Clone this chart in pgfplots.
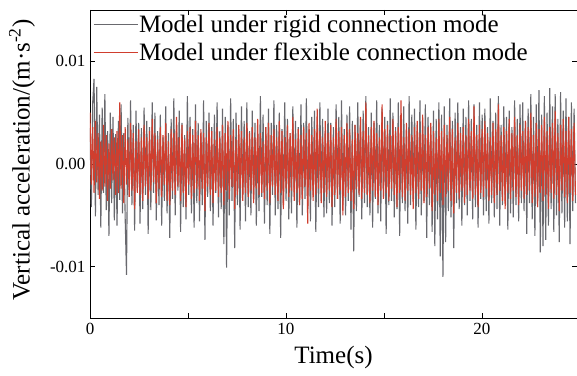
\documentclass[border=0pt]{standalone}
\usepackage{pgfplots}
\pgfplotsset{compat=1.18}
\usepackage{fontspec}
\setmainfont{Liberation Serif}
\definecolor{rigid}{RGB}{105,105,110}
\definecolor{flex}{RGB}{208,62,46}
\begin{document}
\begin{tikzpicture}
\begin{axis}[
  scale only axis, width=487pt, height=308pt,
  xmin=0, xmax=24.85, ymin=-15, ymax=15,
  axis line style={line width=0.9pt},
  tick style={line width=0.8pt, black},
  tick align=inside, major tick length=5pt, minor tick length=5pt,
  xtick={0,10,20}, xticklabels={0,10,20}, minor xtick={5,15},
  ytick={-10,0,10}, yticklabels={-0.01,0.00,0.01},
  ticklabel style={font=\fontsize{17}{17}\selectfont},
  xticklabel style={yshift=-2pt},
  yticklabel style={xshift=-1pt},
  xlabel={Time(s)}, ylabel={Vertical acceleration/(m·s\textsuperscript{-2})},
  label style={font=\fontsize{25}{25}\selectfont},
  xlabel style={at={(axis description cs:0.5,0)}, anchor=center, yshift=-39pt},
  ylabel style={at={(axis description cs:0,0.5)}, anchor=center, yshift=68pt, xshift=4pt},
  legend style={at={(axis description cs:0,1)}, anchor=north west, draw=none, fill=none,
    xshift=2pt, yshift=-3pt,
    font=\fontsize{25}{25}\selectfont, inner sep=1pt, row sep=7pt,
    nodes={inner sep=1pt}},
  legend cell align=left,
  legend image code/.code={\draw[#1, line width=0.8pt] (0pt,0pt) -- (44pt,0pt);},
]
\coordinate (bl) at (rel axis cs:0,0);
\coordinate (tr) at (rel axis cs:1,1);
\addplot[color=rigid, line width=1.1pt] table[row sep=\\, header=false, x expr=\coordindex*0.069, y index=0] {
3.5\\ -4.2\\ 6.0\\ 8.3\\ -5.1\\ 7.5\\ -3.0\\ 4.8\\ -6.2\\ 5.5\\ -2.8\\ 6.8\\ -4.5\\ 3.2\\ -7.0\\ 5.0\\ -3.8\\ 4.6\\ -5.5\\ 2.9\\
-6.0\\ 4.2\\ -3.5\\ 5.8\\ -4.8\\ 3.0\\ -5.2\\ -10.8\\ 4.5\\ -3.2\\ 6.2\\ -4.0\\ 3.8\\ -6.5\\ 5.2\\ -2.5\\ 4.0\\ -5.8\\ 3.5\\ -4.4\\
5.5\\ -3.0\\ 4.2\\ -6.8\\ 3.6\\ -4.5\\ 6.0\\ -2.8\\ 5.0\\ -5.5\\ 3.2\\ -4.0\\ 4.8\\ -6.0\\ 2.6\\ -3.6\\ 5.6\\ -4.8\\ 3.0\\ -7.2\\
4.4\\ -3.4\\ 6.4\\ -5.0\\ 3.8\\ -2.6\\ 5.2\\ -6.6\\ 4.0\\ -4.2\\ 2.8\\ -5.4\\ 6.6\\ -3.0\\ 4.6\\ -4.8\\ 3.4\\ -6.2\\ 5.8\\ -3.8\\
4.0\\ -5.6\\ 3.0\\ -4.0\\ 6.2\\ -7.4\\ 4.2\\ -3.2\\ 5.0\\ -4.6\\ 3.6\\ -6.0\\ 4.8\\ -2.8\\ 6.0\\ -5.2\\ 3.2\\ -4.4\\ 5.4\\ -7.8\\
4.6\\ -10.1\\ 3.8\\ -5.0\\ 6.4\\ -3.6\\ 4.4\\ -8.2\\ 5.0\\ -4.0\\ 3.4\\ -6.4\\ 5.6\\ -3.0\\ 4.2\\ -5.6\\ 6.0\\ -4.2\\ 3.2\\ -5.0\\
5.2\\ -3.4\\ 4.0\\ -6.0\\ 3.0\\ -4.6\\ 6.6\\ -3.2\\ 4.8\\ -5.8\\ 3.6\\ -4.0\\ 5.4\\ -6.8\\ 4.0\\ -3.0\\ 6.2\\ -5.0\\ 3.8\\ -4.4\\
5.0\\ -7.2\\ 3.4\\ -4.2\\ 6.0\\ -3.6\\ 4.4\\ -5.4\\ 3.0\\ -4.8\\ 5.6\\ -3.2\\ 4.2\\ -6.2\\ 3.6\\ -4.0\\ 5.8\\ -5.0\\ 4.0\\ -3.4\\
6.4\\ -4.4\\ 3.4\\ -5.6\\ 4.6\\ -3.0\\ 5.2\\ -6.6\\ 3.8\\ -4.2\\ 6.0\\ -3.6\\ 4.4\\ -5.2\\ 3.2\\ -4.8\\ 5.4\\ -3.8\\ 4.0\\ -6.0\\
3.6\\ -4.2\\ 5.8\\ -3.4\\ 4.6\\ -5.8\\ 6.2\\ -4.0\\ 3.4\\ -5.0\\ 4.8\\ -3.6\\ 5.6\\ -6.4\\ 4.2\\ -8.5\\ 3.8\\ -4.6\\ 6.0\\ -3.2\\
4.4\\ -5.4\\ 5.2\\ -3.8\\ 6.6\\ -4.2\\ 3.6\\ -5.0\\ 5.0\\ -6.2\\ 4.0\\ -3.4\\ 6.2\\ -4.8\\ 3.8\\ -5.6\\ 5.4\\ -3.2\\ 4.6\\ -6.8\\
4.2\\ -4.0\\ 6.4\\ -3.6\\ 5.0\\ -5.2\\ 3.6\\ -4.4\\ 6.0\\ -7.0\\ 4.4\\ -3.8\\ 5.6\\ -4.6\\ 3.4\\ -5.8\\ 6.6\\ -4.0\\ 4.8\\ -3.4\\
5.4\\ -6.4\\ 3.8\\ -4.2\\ 6.2\\ -5.0\\ 4.0\\ -3.6\\ 5.8\\ -7.2\\ 4.6\\ -4.0\\ 3.6\\ -6.6\\ 5.2\\ -8.0\\ 4.4\\ -5.4\\ 6.0\\ -9.0\\
4.8\\ -11.0\\ 5.6\\ -7.6\\ 3.8\\ -4.6\\ 6.4\\ -5.2\\ 4.2\\ -8.2\\ 5.0\\ -3.8\\ 6.0\\ -4.4\\ 3.6\\ -6.0\\ 5.4\\ -4.0\\ 4.6\\ -5.0\\
6.2\\ -3.6\\ 4.4\\ -5.4\\ 5.8\\ -4.2\\ 3.8\\ -6.2\\ 6.0\\ -3.4\\ 4.8\\ -5.0\\ 5.4\\ -4.6\\ 3.6\\ -5.8\\ 6.4\\ -3.8\\ 4.2\\ -5.2\\
5.0\\ -4.4\\ 6.6\\ -6.0\\ 3.8\\ -4.0\\ 5.6\\ -3.6\\ 4.6\\ -6.4\\ 5.2\\ -4.8\\ 3.6\\ -5.2\\ 6.2\\ -4.0\\ 4.4\\ -5.6\\ 5.8\\ -3.8\\
6.0\\ -4.6\\ 4.2\\ -6.8\\ 5.4\\ -3.8\\ 6.8\\ -5.4\\ 4.6\\ -7.0\\ 5.8\\ -4.2\\ 7.2\\ -8.6\\ 4.8\\ -8.0\\ 6.6\\ -7.4\\ 5.0\\ -6.0\\
7.4\\ -4.4\\ 5.6\\ -6.6\\ 6.8\\ -5.0\\ 4.4\\ -7.6\\ 7.0\\ -4.8\\ 5.2\\ -6.2\\ 6.4\\ -5.6\\ 4.6\\ -7.8\\ 6.0\\ -4.6\\ 5.4\\ -3.8\\
};
\addlegendentry{Model under rigid connection mode}
\addplot[color=flex, line width=1.1pt] table[row sep=\\, header=false, x expr=\coordindex*0.069, y index=0] {
5.0\\ -2.0\\ 3.6\\ -2.8\\ 4.2\\ -1.8\\ 3.0\\ -3.4\\ 2.2\\ -2.6\\ 3.8\\ -2.2\\ 2.8\\ -3.6\\ 2.0\\ -2.4\\ 3.4\\ -1.6\\ 2.6\\ -3.0\\
3.2\\ -2.8\\ 6.0\\ -2.4\\ 2.8\\ -3.8\\ 3.6\\ -2.0\\ 2.4\\ -3.2\\ 4.0\\ -2.6\\ 3.0\\ -4.4\\ 2.2\\ -2.8\\ 3.4\\ -3.0\\ 2.6\\ -3.6\\
3.8\\ -2.2\\ 2.6\\ -3.4\\ 3.2\\ -2.6\\ 4.4\\ -1.8\\ 3.0\\ -3.8\\ 2.4\\ -2.4\\ 3.6\\ -3.2\\ 2.8\\ -2.0\\ 4.0\\ -3.6\\ 2.2\\ -4.0\\
3.4\\ -2.6\\ 3.0\\ -3.0\\ 4.6\\ -2.2\\ 2.6\\ -3.6\\ 3.8\\ -2.8\\ 2.4\\ -4.2\\ 3.2\\ -2.0\\ 3.6\\ -3.4\\ 2.8\\ -2.8\\ 4.2\\ -2.4\\
2.8\\ -3.6\\ 3.4\\ -2.4\\ 3.0\\ -4.6\\ 2.6\\ -2.2\\ 4.0\\ -3.0\\ 3.2\\ -3.8\\ 2.4\\ -2.6\\ 3.6\\ -3.2\\ 2.6\\ -2.8\\ 3.8\\ -4.0\\
3.0\\ -2.6\\ 4.2\\ -3.4\\ 2.8\\ -2.2\\ 3.4\\ -4.4\\ 2.4\\ -3.0\\ 3.8\\ -2.4\\ 3.2\\ -3.6\\ 2.6\\ -2.8\\ 4.0\\ -3.2\\ 3.0\\ -2.6\\
3.6\\ -3.8\\ 2.6\\ -2.4\\ 4.4\\ -3.0\\ 3.0\\ -2.8\\ 2.2\\ -3.4\\ 3.6\\ -2.6\\ 4.0\\ -3.8\\ 2.8\\ -2.2\\ 3.4\\ -3.0\\ 2.6\\ -3.6\\
4.2\\ -2.8\\ 3.2\\ -4.4\\ 2.6\\ -2.4\\ 3.8\\ -3.2\\ 3.0\\ -2.6\\ 4.6\\ -3.6\\ 2.4\\ -2.8\\ 3.4\\ -4.0\\ 2.8\\ -3.4\\ 3.6\\ -2.2\\
3.0\\ -5.8\\ 4.0\\ -2.6\\ 2.8\\ -3.6\\ 3.4\\ -3.0\\ 5.4\\ -2.4\\ 3.2\\ -3.8\\ 2.6\\ -2.8\\ 4.2\\ -3.2\\ 3.0\\ -2.6\\ 3.8\\ -4.2\\
2.6\\ -3.0\\ 4.4\\ -3.4\\ 3.2\\ -2.6\\ 3.6\\ -5.0\\ 2.8\\ -3.2\\ 4.0\\ -2.8\\ 3.4\\ -3.6\\ 2.4\\ -4.4\\ 3.8\\ -2.4\\ 3.0\\ -3.0\\
4.6\\ -3.4\\ 3.2\\ -2.8\\ 6.0\\ -3.0\\ 2.8\\ -3.8\\ 3.6\\ -2.6\\ 4.2\\ -3.2\\ 3.0\\ -4.0\\ 2.6\\ -2.6\\ 5.8\\ -3.4\\ 3.4\\ -2.8\\
3.8\\ -3.6\\ 2.8\\ -2.4\\ 4.4\\ -3.0\\ 3.2\\ -4.2\\ 3.6\\ -2.8\\ 6.2\\ -3.2\\ 2.6\\ -3.6\\ 4.0\\ -2.6\\ 3.4\\ -3.0\\ 2.8\\ -4.4\\
3.6\\ -2.8\\ 4.2\\ -3.4\\ 3.0\\ -2.6\\ 4.8\\ -3.8\\ 2.8\\ -3.2\\ 3.6\\ -2.4\\ 4.0\\ -4.6\\ 3.2\\ -3.0\\ 2.6\\ -3.6\\ 4.4\\ -2.8\\
3.2\\ -4.0\\ 3.8\\ -3.2\\ 2.8\\ -2.6\\ 4.6\\ -3.6\\ 3.4\\ -4.8\\ 2.6\\ -2.8\\ 4.0\\ -3.4\\ 3.0\\ -2.6\\ 3.6\\ -3.8\\ 2.8\\ -3.0\\
4.4\\ -2.6\\ 3.2\\ -3.4\\ 5.6\\ -3.0\\ 2.8\\ -4.2\\ 3.8\\ -2.8\\ 3.4\\ -3.2\\ 4.2\\ -2.4\\ 3.0\\ -3.6\\ 2.6\\ -3.0\\ 4.0\\ -3.8\\
3.4\\ -3.0\\ 5.8\\ -2.6\\ 2.8\\ -3.6\\ 3.6\\ -4.4\\ 3.2\\ -2.8\\ 4.4\\ -3.4\\ 3.0\\ -2.6\\ 4.6\\ -3.2\\ 2.8\\ -4.0\\ 3.8\\ -2.6\\
3.2\\ -3.4\\ 4.2\\ -3.0\\ 3.6\\ -2.6\\ 5.0\\ -3.8\\ 2.8\\ -3.2\\ 4.0\\ -4.2\\ 3.4\\ -2.8\\ 3.8\\ -3.6\\ 4.6\\ -3.0\\ 3.2\\ -4.4\\
3.6\\ -2.8\\ 4.0\\ -3.4\\ 5.2\\ -3.0\\ 3.0\\ -4.6\\ 3.8\\ -2.6\\ 4.4\\ -3.2\\ 3.2\\ -3.8\\ 4.6\\ -2.8\\ 3.4\\ -3.6\\ 4.0\\ -3.0\\
};
\addlegendentry{Model under flexible connection mode}
\end{axis}
\pgfresetboundingbox
\path ([shift={(-90pt,-58pt)}]bl) rectangle ([yshift=10pt]tr);
\end{tikzpicture}
\end{document}
